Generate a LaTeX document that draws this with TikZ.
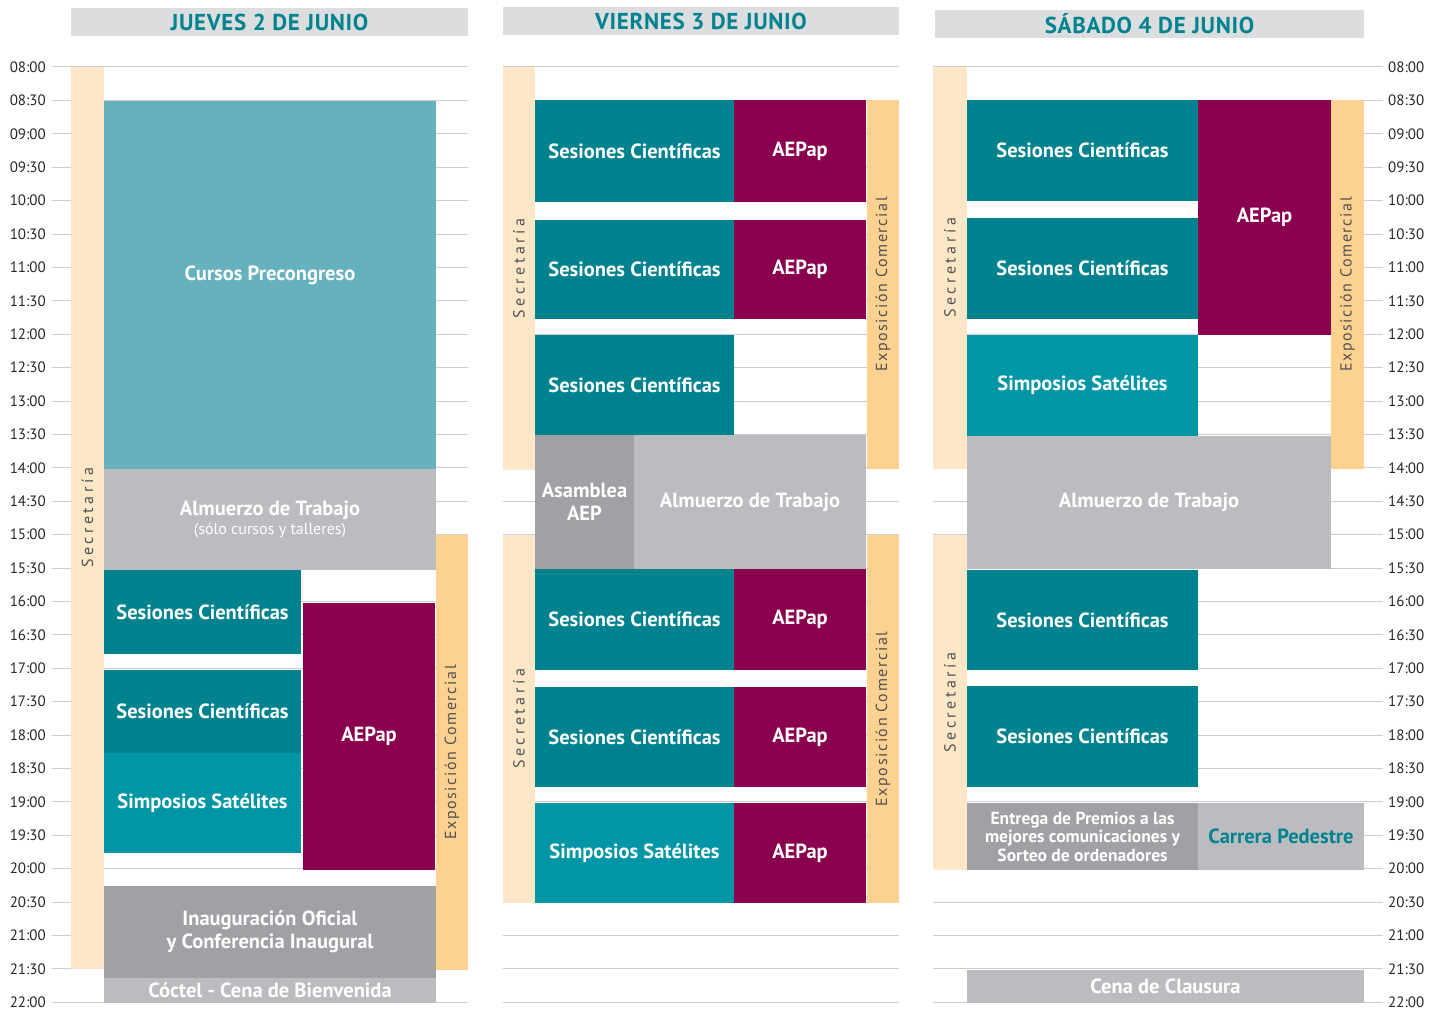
\documentclass[tikz,border=0pt]{standalone}
\usepackage{fontspec}
\setmainfont{PT Sans}
\usepackage{tikz}

\definecolor{sesion}{HTML}{00838F}
\definecolor{simposio}{HTML}{0096A5}
\definecolor{cursos}{HTML}{65B1BE}
\definecolor{aepap}{HTML}{8B004E}
\definecolor{grisclaro}{HTML}{BBBCBF}
\definecolor{grisoscuro}{HTML}{A0A1A5}
\definecolor{secret}{HTML}{FDE7C6}
\definecolor{expo}{HTML}{FDD18F}
\definecolor{cabecera}{HTML}{DCDDDF}
\definecolor{rejilla}{HTML}{CDCDCF}
\definecolor{textogris}{HTML}{505153}

\tikzset{
  caja/.style={inner sep=0pt, outer sep=0pt, align=center, text=white,
    font=\bfseries\fontsize{20.5}{23}\selectfont},
  sesionbox/.style={caja, fill=sesion},
  simposiobox/.style={caja, fill=simposio},
  cursosbox/.style={caja, fill=cursos},
  aepapbox/.style={caja, fill=aepap},
  almuerzobox/.style={caja, fill=grisclaro},
  actobox/.style={caja, fill=grisoscuro},
  secretbox/.style={caja, fill=secret, text=textogris,
    font=\fontsize{16}{18}\selectfont\addfontfeature{LetterSpace=22}},
  expobox/.style={caja, fill=expo, text=textogris,
    font=\fontsize{16}{18}\selectfont\addfontfeature{LetterSpace=10}},
  cabbox/.style={caja, fill=cabecera, text=sesion,
    font=\bfseries\fontsize{23}{24}\selectfont\addfontfeature{LetterSpace=3}},
  linea/.style={draw=rejilla, line width=1pt},
  hora/.style={inner sep=0pt, text=black!85, font=\fontsize{15}{16}\selectfont}
}

% caja: estilo, nombre, x1, y1, x2, y2, texto
\newcommand{\bloque}[7]{%
  \node[#1, minimum width={(#5-#3)*1pt}, minimum height={(#6-#4)*1pt}]
    (#2) at ({(#3+#5)/2},{(#4+#6)/2}) {#7};}
% banda vertical con texto girado
\newcommand{\banda}[7]{%
  \node[#1, rotate=90, minimum width={(#6-#4)*1pt}, minimum height={(#5-#3)*1pt}]
    (#2) at ({(#3+#5)/2},{(#4+#6)/2}) {#7};}

\begin{document}
\begin{tikzpicture}[x=1pt, y=-1pt]
  \useasboundingbox (0,0) rectangle (1442,1014);

  % rejilla de horas
  \foreach \t [count=\i from 0] in {08:00,08:30,09:00,09:30,10:00,10:30,11:00,11:30,
      12:00,12:30,13:00,13:30,14:00,14:30,15:00,15:30,16:00,16:30,17:00,17:30,
      18:00,18:30,19:00,19:30,20:00,20:30,21:00,21:30,22:00} {
    \draw[linea] (52,{67+33.4*\i}) -- (468,{67+33.4*\i});
    \draw[linea] (503,{67+33.4*\i}) -- (899,{67+33.4*\i});
    \draw[linea] (933,{67+33.4*\i}) -- (1383,{67+33.4*\i});
    \node[hora, anchor=east] (tL\i) at (46,{67+33.4*\i}) {\t};
    \node[hora, anchor=west] (tR\i) at (1388,{67+33.4*\i}) {\t};
  }

  % cabeceras
  \bloque{cabbox}{hJ}{71}{8}{468}{36}{JUEVES 2 DE JUNIO}
  \bloque{cabbox}{hV}{503}{7}{899}{35}{VIERNES 3 DE JUNIO}
  \bloque{cabbox}{hS}{935}{10}{1364}{38}{SÁBADO 4 DE JUNIO}

  % jueves
  \banda{secretbox}{secJ}{71}{67}{104}{969}{Secretaría}
  \banda{expobox}{expJ}{436}{535}{468}{970}{Exposición Comercial}
  \bloque{cursosbox, text depth=24pt}{cursos}{104}{101}{436}{469}{Cursos Precongreso}
  \bloque{almuerzobox}{almJ}{104}{469}{436}{570}{Almuerzo de Trabajo\\[-4pt]
    {\mdseries\fontsize{16}{17}\selectfont (sólo cursos y talleres)}}
  \bloque{sesionbox}{sesJ1}{104}{570}{301}{654}{Sesiones Científicas}
  \bloque{sesionbox}{sesJ2}{104}{670}{301}{753}{Sesiones Científicas}
  \bloque{simposiobox}{simJ}{104}{753}{301}{853}{Simposios Satélites}
  \bloque{aepapbox}{aepJ}{303}{603}{435}{870}{AEPap}
  \bloque{actobox}{inaug}{104}{886}{436}{978}{Inauguración Oficial\\y Conferencia Inaugural}
  \bloque{almuerzobox}{coctel}{104}{978}{436}{1003}{Cóctel - Cena de Bienvenida}

  % viernes
  \banda{secretbox}{secV1}{503}{67}{535}{470}{Secretaría}
  \banda{secretbox}{secV2}{503}{535}{535}{903}{Secretaría}
  \banda{expobox}{expV1}{867}{100}{899}{469}{Exposición Comercial}
  \banda{expobox}{expV2}{867}{535}{899}{903}{Exposición Comercial}
  \bloque{sesionbox}{sesV1}{535}{100}{734}{202}{Sesiones Científicas}
  \bloque{aepapbox}{aepV1}{734}{100}{866}{202}{AEPap}
  \bloque{sesionbox}{sesV2}{535}{220}{734}{319}{Sesiones Científicas}
  \bloque{aepapbox}{aepV2}{734}{220}{866}{319}{AEPap}
  \bloque{sesionbox}{sesV3}{535}{335}{734}{435}{Sesiones Científicas}
  \bloque{actobox}{asamblea}{535}{435}{634}{569}{Asamblea\\AEP}
  \bloque{almuerzobox}{almV}{634}{435}{866}{569}{Almuerzo de Trabajo}
  \bloque{sesionbox}{sesV4}{535}{569}{734}{670}{Sesiones Científicas}
  \bloque{aepapbox}{aepV4}{734}{569}{866}{670}{AEPap}
  \bloque{sesionbox}{sesV5}{535}{687}{734}{787}{Sesiones Científicas}
  \bloque{aepapbox}{aepV5}{734}{687}{866}{787}{AEPap}
  \bloque{simposiobox}{simV}{535}{803}{734}{903}{Simposios Satélites}
  \bloque{aepapbox}{aepV6}{734}{803}{866}{903}{AEPap}

  % sabado
  \banda{secretbox}{secS1}{933}{67}{967}{469}{Secretaría}
  \banda{secretbox}{secS2}{933}{535}{967}{870}{Secretaría}
  \banda{expobox}{expS}{1331}{100}{1364}{469}{Exposición Comercial}
  \bloque{sesionbox}{sesS1}{967}{100}{1198}{201}{Sesiones Científicas}
  \bloque{sesionbox}{sesS2}{967}{218}{1198}{319}{Sesiones Científicas}
  \bloque{simposiobox}{simS}{967}{335}{1198}{436}{Simposios Satélites}
  \bloque{aepapbox}{aepS}{1198}{100}{1331}{335}{AEPap}
  \bloque{almuerzobox}{almS}{967}{436}{1331}{569}{Almuerzo de Trabajo}
  \bloque{sesionbox}{sesS3}{967}{570}{1198}{670}{Sesiones Científicas}
  \bloque{sesionbox}{sesS4}{967}{686}{1198}{787}{Sesiones Científicas}
  \bloque{actobox, font=\bfseries\fontsize{17.5}{18.5}\selectfont}{entrega}{967}{803}{1198}{870}{%
    Entrega de Premios a las\\mejores comunicaciones y\\Sorteo de ordenadores}
  \bloque{almuerzobox, text=sesion}{carrera}{1198}{803}{1364}{870}{Carrera Pedestre}
  \bloque{almuerzobox}{cena}{967}{970}{1364}{1003}{Cena de Clausura}
\end{tikzpicture}
\end{document}
